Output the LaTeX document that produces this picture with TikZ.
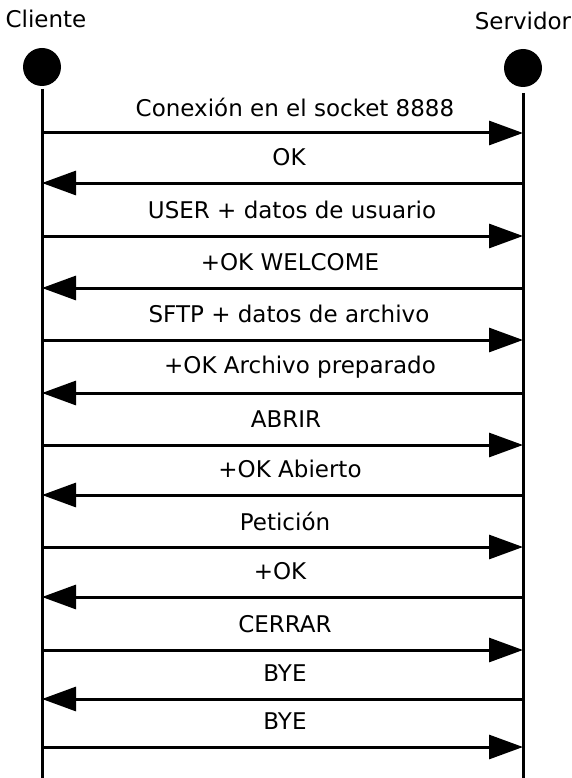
\documentclass[tikz,border=0pt]{standalone}
\usepackage{fontspec}
\setmainfont{DejaVu Sans}
\usetikzlibrary{arrows.meta}
\begin{document}
\begin{tikzpicture}[x=1pt,y=-1pt,
  lifeline/.style={line width=3pt},
  msg/.style={line width=3pt,-{Triangle[length=34pt,width=24pt]}},
  lbl/.style={font=\fontsize{23}{25}\selectfont,inner sep=0pt},
  actor/.style={circle,fill=black,minimum size=38pt,inner sep=0pt}]
\useasboundingbox (0,0) rectangle (571,778);
% participants
\node[lbl] (cl) at (46,19) {Cliente};
\node[lbl] (sv) at (523,21) {Servidor};
\node[actor] (ca) at (42,67) {};
\node[actor] (sa) at (523,68) {};
\coordinate (cb) at (42,778);
\coordinate (sb) at (523,778);
\draw[lifeline] (42,89) -- (cb);
\draw[lifeline] (523,93) -- (sb);
% messages: y position, direction, label
\foreach \y/\d/\t/\lx in {
  133/r/{Conexión en el socket 8888}/295,
  183/l/{OK}/289,
  236/r/{USER + datos de usuario}/292,
  288/l/{+OK WELCOME}/290,
  340/r/{SFTP + datos de archivo}/289,
  393/l/{+OK Archivo preparado}/300,
  445/r/{ABRIR}/286,
  495/l/{+OK Abierto}/290,
  547/r/{Petición}/285,
  597/l/{+OK}/280,
  650/r/{CERRAR}/285,
  699/l/{BYE}/285,
  747/r/{BYE}/285}{
  \coordinate (a) at (42,\y);
  \coordinate (b) at (523,\y);
  \if r\d
    \draw[msg] (a) -- (b);
  \else
    \draw[msg] (b) -- (a);
  \fi
  \node[lbl] (t\y) at (\lx,\y-26) {\t};
}
\end{tikzpicture}
\end{document}
